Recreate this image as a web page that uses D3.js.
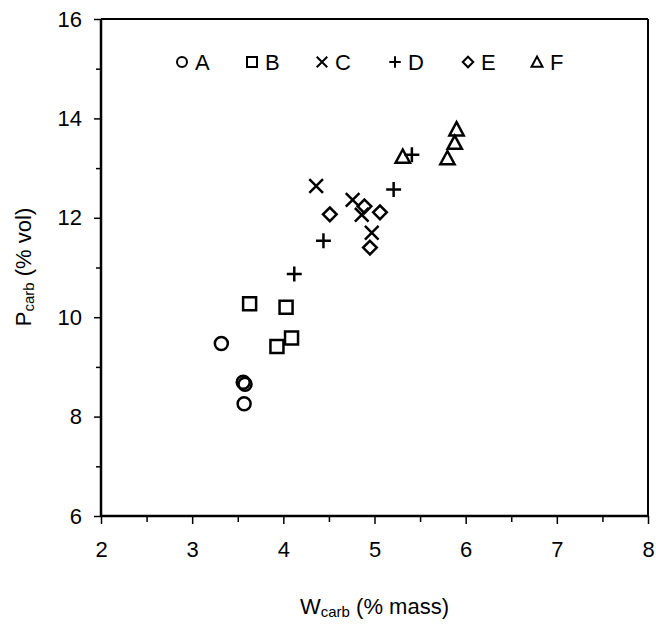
<!DOCTYPE html>
<html><head><meta charset="utf-8">
<script src="https://cdn.jsdelivr.net/npm/d3@7"></script>
<style>
html,body{margin:0;padding:0;background:#fff;}
text{font-family:"Liberation Sans",Arial,sans-serif;fill:#000;}
</style></head>
<body><svg id="c" width="656" height="626"></svg>
<script>
const seriesNames = ["A","B","C","D","E","F"];
const seriesShapes = ["circle","square","cross","plus","diamond","triangle"];
const xA = [3.32, 3.56, 3.58, 3.57], yA = [9.47, 8.69, 8.65, 8.26];
const xB = [3.63, 4.03, 4.09, 3.93], yB = [10.27, 10.20, 9.58, 9.41];
const xC = [4.36, 4.76, 4.86, 4.97], yC = [12.64, 12.36, 12.06, 11.70];
const xD = [4.12, 4.44, 5.21, 5.41], yD = [10.87, 11.54, 12.57, 13.27];
const xE = [4.51, 4.89, 5.06, 4.95], yE = [12.07, 12.23, 12.11, 11.40];
const xF = [5.31, 5.80, 5.88, 5.90], yF = [13.23, 13.20, 13.51, 13.78];
const xTicks = [2,3,4,5,6,7,8];
const yTicks = [6,8,10,12,14,16];
const xTitle = ["W","carb"," (% mass)"];
const yTitle = ["P","carb"," (% vol)"];

const seriesX = [xA,xB,xC,xD,xE,xF], seriesY = [yA,yB,yC,yD,yE,yF];
const svg = d3.select("#c");
const L=101, R=648, T=19, B=516;
const x = d3.scaleLinear().domain([2,8]).range([L,R]);
const y = d3.scaleLinear().domain([6,16]).range([B,T]);
const FS = 22;

// frame
svg.append("line").attr("x1",L).attr("x2",R).attr("y1",T).attr("y2",T).attr("stroke","#000").attr("stroke-width",2);
svg.append("line").attr("x1",R).attr("x2",R).attr("y1",T).attr("y2",B).attr("stroke","#000").attr("stroke-width",2);

// axes
const xMinor = d3.range(2.5,8,1);
const yMinor = d3.range(7,16,2);
const gx = svg.append("g").attr("transform",`translate(0,${B})`);
gx.call(d3.axisBottom(x).tickValues(xMinor).tickSize(6).tickFormat(""));
gx.call(g=>g.selectAll(".tick line").attr("stroke-width",1.5));
const gx2 = svg.append("g").attr("transform",`translate(0,${B})`);
gx2.call(d3.axisBottom(x).tickValues(xTicks).tickSize(8).tickPadding(17).tickFormat(d3.format("d")));
gx2.selectAll("text").attr("font-size",FS).attr("font-family","Liberation Sans, Arial, sans-serif");
gx2.selectAll(".tick line").attr("stroke-width",1.5);
gx2.select(".domain").attr("stroke-width",2.5).attr("d",`M${L},0H${R}`);
gx.select(".domain").remove();

const gy = svg.append("g").attr("transform",`translate(${L},0)`);
gy.call(d3.axisLeft(y).tickValues(yMinor).tickSize(5).tickFormat(""));
gy.selectAll(".tick line").attr("stroke-width",1.5);
gy.select(".domain").remove();
const gy2 = svg.append("g").attr("transform",`translate(${L},0)`);
gy2.call(d3.axisLeft(y).tickValues(yTicks).tickSize(7).tickPadding(12).tickFormat(d3.format("d")));
gy2.selectAll("text").attr("font-size",FS).attr("font-family","Liberation Sans, Arial, sans-serif");
gy2.selectAll(".tick line").attr("stroke-width",1.5);
gy2.select(".domain").attr("stroke-width",2.5).attr("d",`M0,${T}V${B}`);

// marker paths
function shapePath(s, r){
  switch(s){
    case "circle": return `M${-r},0A${r},${r} 0 1,0 ${r},0A${r},${r} 0 1,0 ${-r},0Z`;
    case "square": return `M${-r},${-r}H${r}V${r}H${-r}Z`;
    case "cross": {const a=r*1.05; return `M${-a},${-a}L${a},${a}M${-a},${a}L${a},${-a}`;}
    case "plus": {const a=r*1.15; return `M${-a},0H${a}M0,${-a}V${a}`;}
    case "diamond": {const a=r*1.05; return `M0,${-a}L${a},0L0,${a}L${-a},0Z`;}
    case "triangle": {const a=r*1.1; return `M0,${-a}L${a},${a*0.85}L${-a},${a*0.85}Z`;}
  }
}

seriesNames.forEach((n,i)=>{
  const pts = seriesX[i].map((v,j)=>[v, seriesY[i][j]]);
  svg.append("g").selectAll("path").data(pts).join("path")
    .attr("transform",d=>`translate(${x(d[0])},${y(d[1])})`)
    .attr("d",shapePath(seriesShapes[i],6.5))
    .attr("fill","none").attr("stroke","#000").attr("stroke-width",2.5);
});

// legend
const legX = [182,252,322,395,468,537];
seriesNames.forEach((n,i)=>{
  svg.append("path").attr("transform",`translate(${legX[i]},62)`)
    .attr("d",shapePath(seriesShapes[i],5)).attr("fill","none").attr("stroke","#000").attr("stroke-width",2);
  svg.append("text").attr("x",legX[i]+13).attr("y",70).attr("font-size",FS).text(n);
});

// titles
const xt = svg.append("text").attr("x",(L+R)/2).attr("y",614).attr("text-anchor","middle").attr("font-size",FS);
xt.append("tspan").text(xTitle[0]);
xt.append("tspan").attr("font-size",15).attr("dy",3).text(xTitle[1]);
xt.append("tspan").attr("dy",-3).text(xTitle[2]);
const yt = svg.append("text").attr("transform","translate(31,267) rotate(-90)").attr("text-anchor","middle").attr("font-size",FS);
yt.append("tspan").text(yTitle[0]);
yt.append("tspan").attr("font-size",15).attr("dy",3).text(yTitle[1]);
yt.append("tspan").attr("dy",-3).text(yTitle[2]);
</script></body></html>
